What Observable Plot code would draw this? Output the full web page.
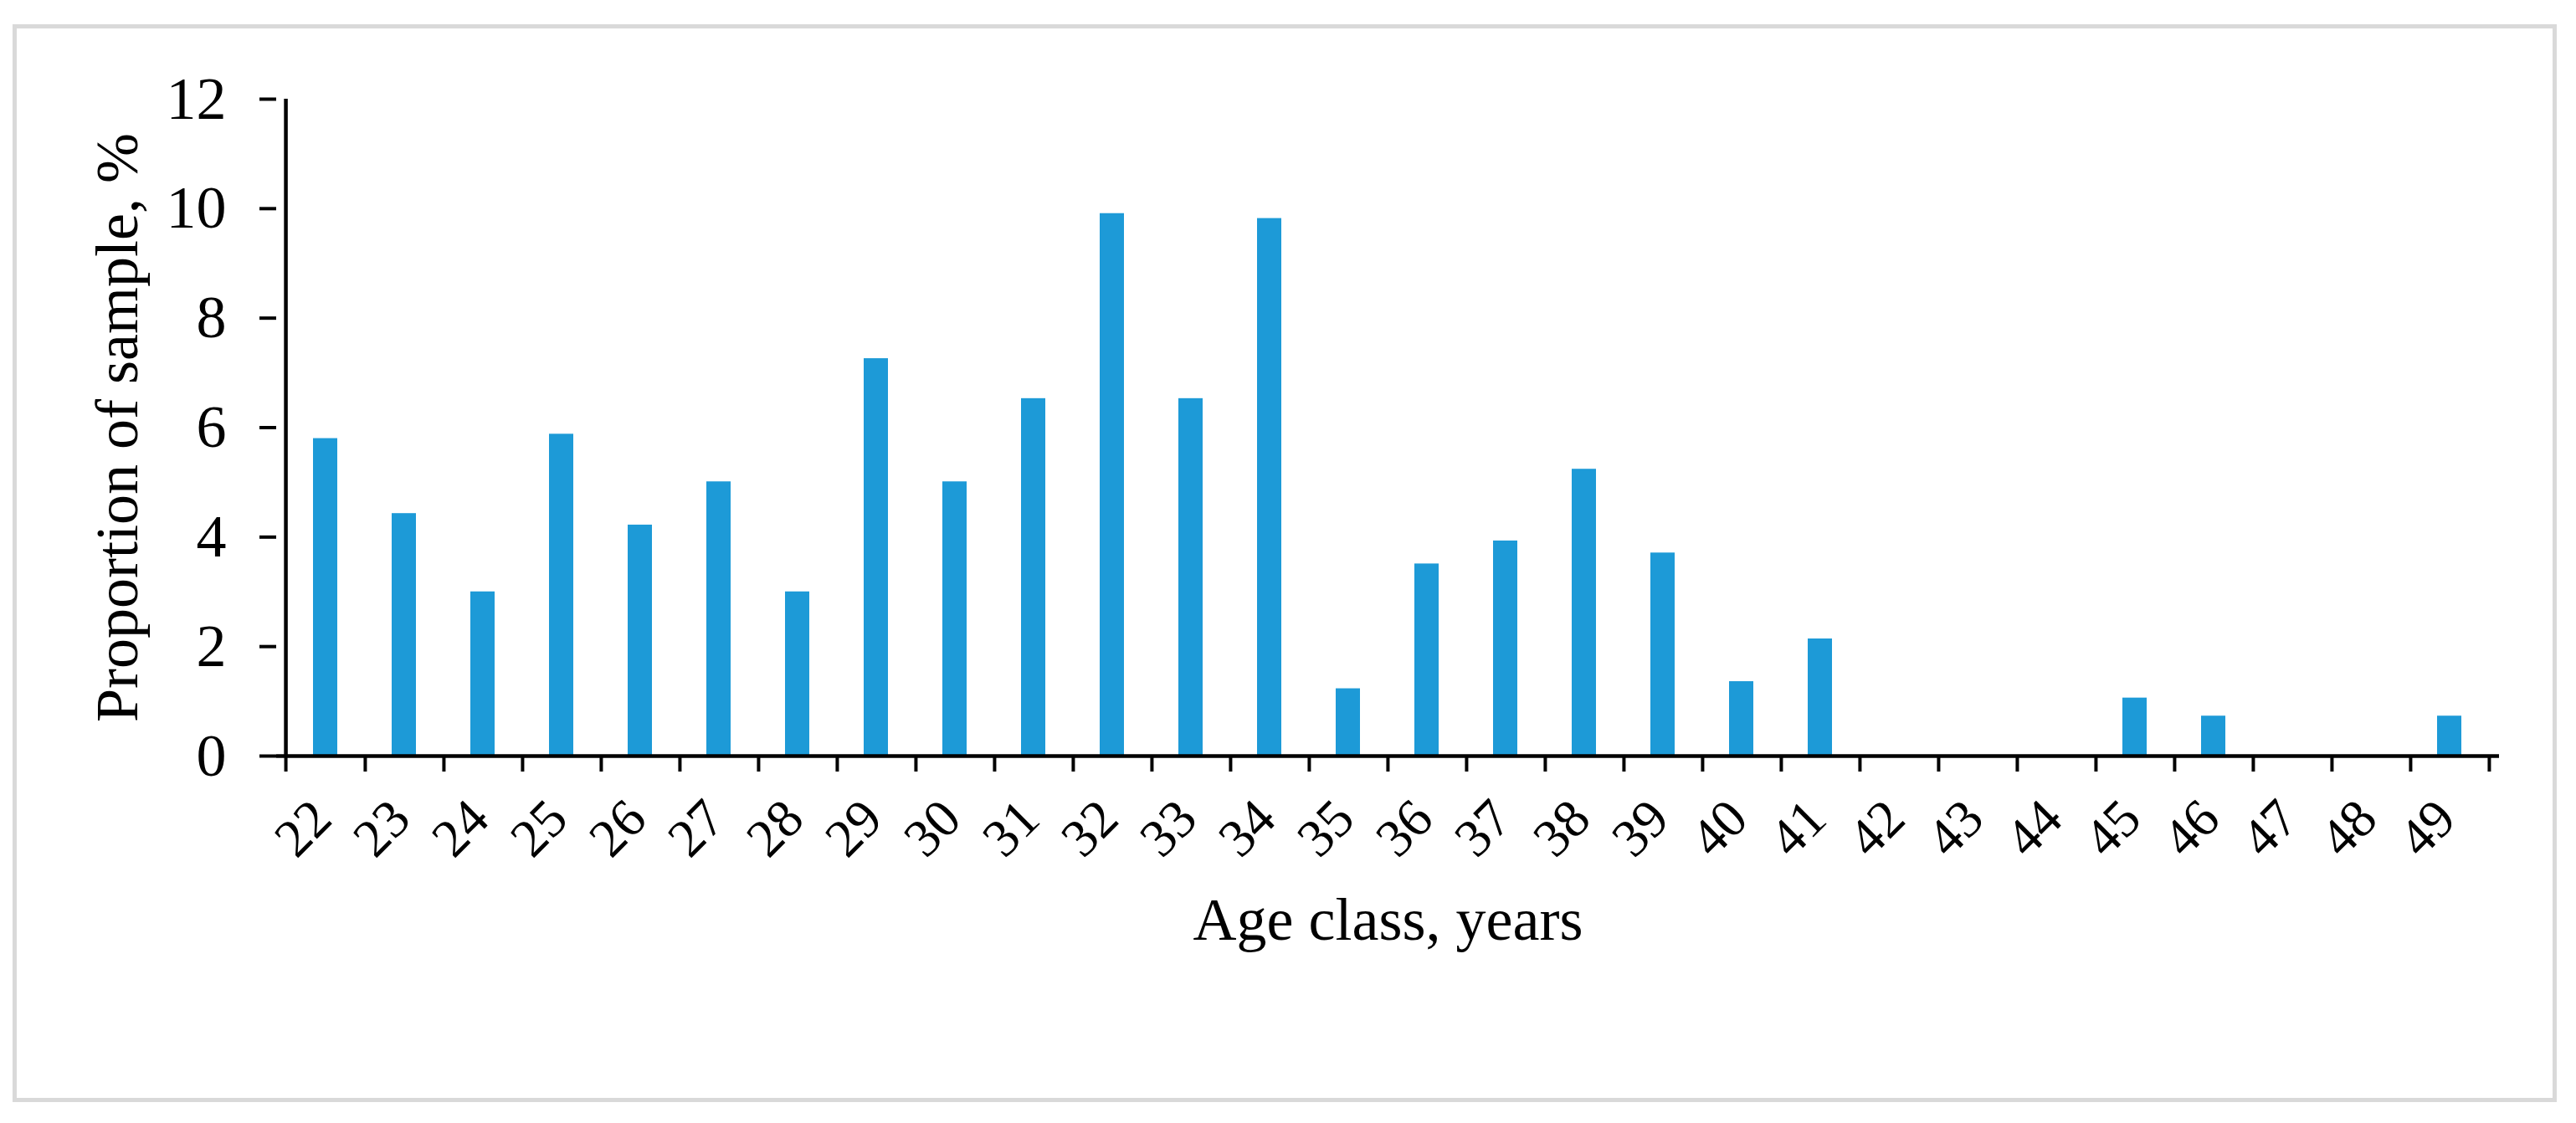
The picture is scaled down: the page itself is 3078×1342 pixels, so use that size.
<!DOCTYPE html>
<html>
<head>
<meta charset="utf-8">
<script src="https://cdn.jsdelivr.net/npm/d3@7"></script>
<script src="https://cdn.jsdelivr.net/npm/@observablehq/plot@0.6"></script>
<style>
  html, body { margin: 0; padding: 0; background: #ffffff; }
  #wrap { position: relative; width: 3078px; height: 1342px; overflow: hidden; }
  #frame { position: absolute; left: 15px; top: 29px; width: 3030px; height: 1278px;
           border: 5px solid #d9d9d9; box-sizing: content-box; }
  #chart { position: absolute; left: 0; top: 0; }
</style>
</head>
<body>
<div id="wrap"><div id="frame"></div><div id="chart"></div></div>
<script>
// Data
const ages = ["22","23","24","25","26","27","28","29","30","31","32","33","34","35",
              "36","37","38","39","40","41","42","43","44","45","46","47","48","49"];
const proportions = [5.80, 4.43, 3.00, 5.88, 4.22, 5.01, 3.00, 7.26, 5.01, 6.53, 9.91, 6.53, 9.82, 1.23,
                     3.51, 3.93, 5.24, 3.71, 1.36, 2.14, 0, 0, 0, 1.06, 0.73, 0, 0, 0.73];
const yTicks = [0, 2, 4, 6, 8, 10, 12];
const xTitle = "Age class, years";
const yTitle = "Proportion of sample, %";

const data = ages.map((a, i) => ({age: a, value: proportions[i]}));

const W = 3078, H = 1342;
const mL = 330, mR = 92, mT = 118, mB = 439;
const step = (W - mL - mR) / ages.length;
const black = "#000000";

const chart = Plot.plot({
  width: W,
  height: H,
  marginLeft: mL,
  marginRight: mR,
  marginTop: mT,
  marginBottom: mB,
  style: {fontFamily: "'Liberation Serif', 'Times New Roman', serif", color: black, background: "transparent", overflow: "visible"},
  x: {type: "band", domain: ages, paddingInner: 0.69, paddingOuter: 0.345},
  y: {domain: [0, 12]},
  marks: [
    Plot.barY(data, {x: "age", y: "value", fill: "#1d9ad7"}),
    Plot.ruleY([0], {stroke: black, strokeWidth: 4.5}),
    Plot.ruleX([ages[0]], {x: d => d, y1: 0, y2: 12, dx: -step / 2, stroke: black, strokeWidth: 4.5}),
    Plot.axisY({ticks: yTicks, tickSize: 20, tickPadding: 40, fontSize: 72, strokeWidth: 4, label: null}),
    Plot.axisX({ticks: ages, tickSize: 19, dx: step / 2, tickFormat: () => "", strokeWidth: 4, label: null}),
    Plot.axisX([ages[0]], {tickSize: 19, dx: -step / 2, tickFormat: () => "", strokeWidth: 4, label: null}),
    Plot.axisX({ticks: ages, tickSize: 0, tickRotate: -45, tickPadding: 64, dx: -4, fontSize: 64,
                textAnchor: "end", lineAnchor: "middle", label: null}),
    Plot.text([xTitle], {frameAnchor: "bottom", dy: 196, fontSize: 72, fill: black,
                         textAnchor: "middle", lineAnchor: "middle"}),
    Plot.text([yTitle], {frameAnchor: "left", dx: -190, rotate: -90, fontSize: 72, fill: black,
                         textAnchor: "middle", lineAnchor: "middle"})
  ]
});
document.getElementById("chart").appendChild(chart);
</script>
</body>
</html>
